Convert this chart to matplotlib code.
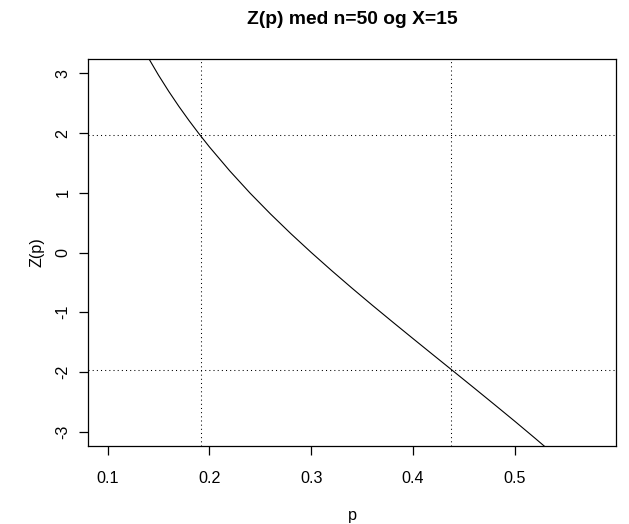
import matplotlib
matplotlib.use("Agg")
import matplotlib.pyplot as plt

plt.rcParams["font.family"] = ["Liberation Sans", "DejaVu Sans"]

# curve points (p, Z(p))
p_vals = [0.10, 0.11, 0.12, 0.13, 0.14, 0.15, 0.16, 0.17, 0.18, 0.19, 0.20,
          0.22, 0.24, 0.26, 0.28, 0.30, 0.32, 0.34, 0.36, 0.38, 0.40,
          0.42, 0.44, 0.46, 0.48, 0.50, 0.52, 0.54, 0.56, 0.58]
z_vals = [4.714, 4.294, 3.917, 3.574, 3.261, 2.970, 2.700, 2.447, 2.209, 1.983, 1.768,
          1.366, 0.993, 0.645, 0.315, 0.0, -0.303, -0.597, -0.884, -1.165, -1.443,
          -1.719, -1.994, -2.270, -2.548, -2.828, -3.114, -3.405, -3.704, -4.011]

h_lines = [1.96, -1.96]
v_lines = [0.1913, 0.4375]

x_ticks = [0.1, 0.2, 0.3, 0.4, 0.5]
y_ticks = [-3, -2, -1, 0, 1, 2, 3]

fig = plt.figure(figsize=(6.29, 5.24), dpi=100)
ax = fig.add_axes([88 / 629, 1 - 446 / 524, (616 - 88) / 629, (446 - 59) / 524])

ax.plot(p_vals, z_vals, color="black", lw=0.8)
for h in h_lines:
    ax.axhline(h, color="black", lw=0.75, dashes=(1, 3))
for v in v_lines:
    ax.axvline(v, color="black", lw=0.75, dashes=(1, 3))

ax.set_xlim(0.0808, 0.5992)
ax.set_ylim(-3.24, 3.24)

ax.set_xticks(x_ticks)
ax.set_xticklabels([str(t) for t in x_ticks])
ax.set_yticks(y_ticks)
ax.set_yticklabels([str(t) for t in y_ticks], rotation=90, va="center")
ax.tick_params(axis="x", direction="out", length=6.5, width=0.9,
               labelsize=11.6, pad=11.5)
ax.tick_params(axis="y", direction="out", length=6.5, width=0.9,
               labelsize=11.6, pad=6)
for s in ax.spines.values():
    s.set_linewidth(0.9)

ax.set_xlabel("p", fontsize=11.6, labelpad=16)
ax.set_ylabel("Z(p)", fontsize=11.6, labelpad=8)
ax.set_title("Z(p) med n=50 og X=15", fontsize=13.9, fontweight="bold", pad=25)

fig.savefig("out.png", dpi=100)
